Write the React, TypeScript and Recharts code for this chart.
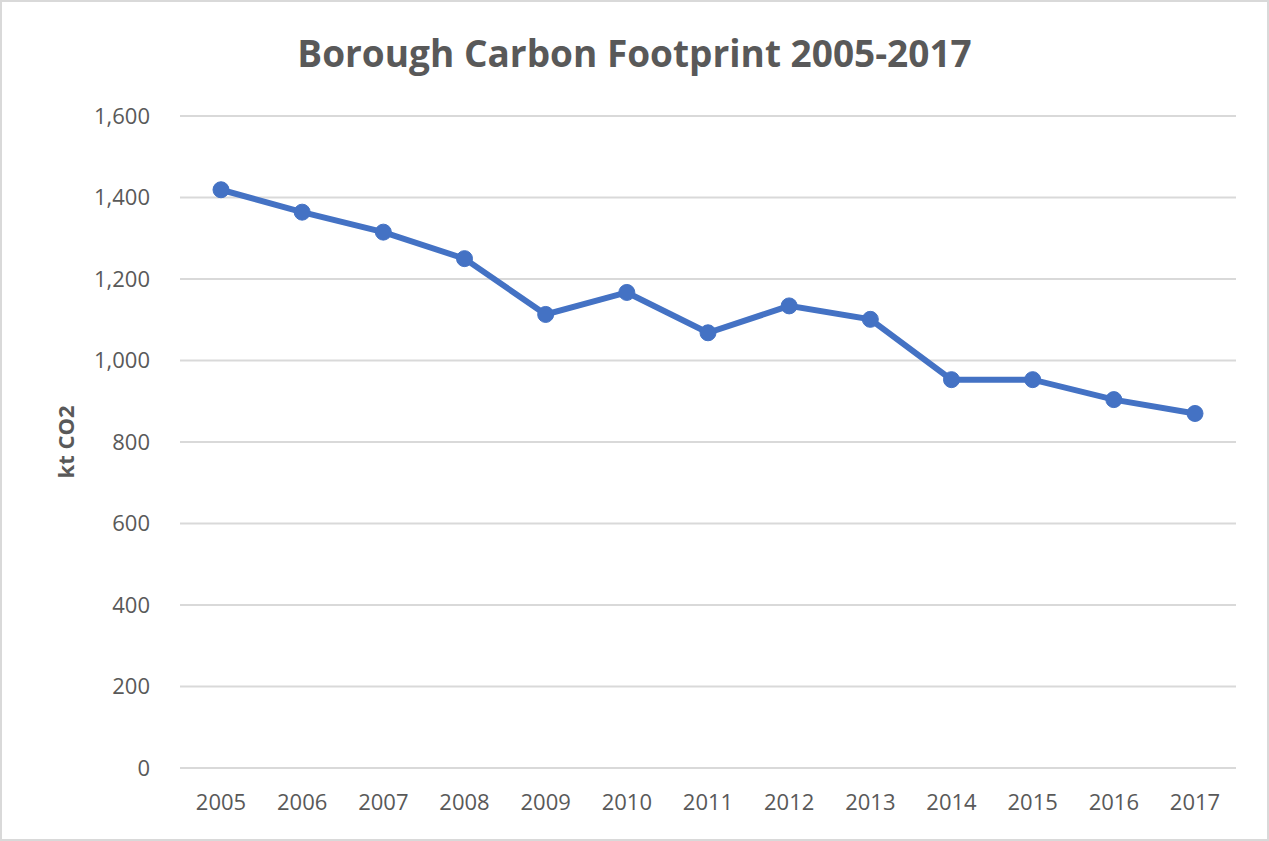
import { LineChart, Line, XAxis, YAxis, CartesianGrid } from 'recharts';

const years = ['2005', '2006', '2007', '2008', '2009', '2010', '2011', '2012', '2013', '2014', '2015', '2016', '2017'];
const emissions = [1419, 1364, 1315, 1250, 1113, 1167, 1068, 1134, 1101, 953, 953, 904, 870];
const yTicks = [0, 200, 400, 600, 800, 1000, 1200, 1400, 1600];

const data = years.map((year, i) => ({ year, value: emissions[i] }));

const FONT = '"Open Sans", "Liberation Sans", sans-serif';
const TEXT = '#595959';

export default function App() {
  return (
    <div
      style={{
        position: 'absolute',
        left: 0,
        top: 0,
        width: 1269,
        height: 841,
        background: '#fff',
        boxSizing: 'border-box',
        border: '2px solid #d9d9d9',
        fontFamily: FONT,
      }}
    >
      {/* タイトル */}
      <div
        style={{
          position: 'absolute',
          left: 0,
          right: 0,
          top: 27,
          textAlign: 'center',
          fontSize: 37,
          fontWeight: 700,
          color: TEXT,
          lineHeight: '48px',
        }}
      >
        Borough Carbon Footprint 2005-2017
      </div>
      <div style={{ position: 'absolute', left: -2, top: -2 }}>
        <LineChart
          width={1269}
          height={841}
          data={data}
          margin={{ top: 116, right: 33, bottom: 0, left: 0 }}
        >
          <CartesianGrid vertical={false} stroke="#d9d9d9" strokeWidth={2} />
          <XAxis
            dataKey="year"
            axisLine={{ stroke: '#d9d9d9', strokeWidth: 2 }}
            tickLine={false}
            tickMargin={20}
            height={73}
            padding={{ left: 41, right: 41 }}
            tick={{ fill: TEXT, fontSize: 22, fontFamily: FONT }}
          />
          <YAxis
            domain={[0, 1600]}
            ticks={yTicks}
            width={180}
            axisLine={false}
            tickLine={false}
            tickMargin={24}
            tickFormatter={(v: number) => v.toLocaleString('en-US')}
            tick={{ fill: TEXT, fontSize: 22, fontFamily: FONT }}
            label={{
              value: 'kt CO2',
              angle: -90,
              position: 'insideLeft',
              offset: 66,
              style: { fill: TEXT, fontSize: 22, fontWeight: 700, fontFamily: FONT, textAnchor: 'middle' },
            }}
          />
          <Line
            type="linear"
            dataKey="value"
            stroke="#4472C4"
            strokeWidth={6}
            dot={{ r: 8, fill: '#4472C4', stroke: '#4472C4', strokeWidth: 1 }}
            isAnimationActive={false}
          />
        </LineChart>
      </div>
    </div>
  );
}
